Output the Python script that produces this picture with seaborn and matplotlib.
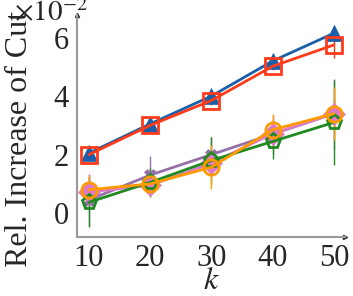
import matplotlib
matplotlib.use('Agg')
import matplotlib.pyplot as plt
import pandas as pd
import seaborn as sns

# values in units of 1e-2
k_values = [10, 20, 30, 40, 50]
blue_tri = [2.05, 3.05, 4.0, 5.2, 6.15]
blue_err = [0.1, 0.15, 0.12, 0.1, 0.25]
red_sq = [2.0, 3.0, 3.85, 5.02, 5.75]
red_err = [0.1, 0.12, 0.15, 0.12, 0.45]
purple_x = [0.45, 1.3, 2.0, 2.7, 3.4]
purple_err = [0.9, 0.65, 0.6, 0.65, 1.2]
pink_d = [0.72, 0.95, 1.7, 2.72, 3.4]
pink_err = [0.6, 0.3, 0.4, 0.5, 0.5]
green_p = [0.37, 1.05, 1.8, 2.45, 3.1]
green_err = [0.85, 0.5, 0.8, 0.6, 1.45]
orange_o = [0.8, 1.0, 1.57, 2.85, 3.4]
orange_err = [0.5, 0.35, 0.75, 0.55, 0.9]

series = [
    ('blue', blue_tri, blue_err, '#1a5fa8', '^', True),
    ('red', red_sq, red_err, '#ff3b1a', 's', False),
    ('purple', purple_x, purple_err, '#9670a8', 'X', True),
    ('pink', pink_d, pink_err, '#e07ac8', 'D', True),
    ('green', green_p, green_err, '#1f8a1f', 'p', False),
    ('orange', orange_o, orange_err, '#ff9a00', 'o', False),
]

sns.set_style('white')
plt.rcParams['font.family'] = ['Liberation Serif', 'DejaVu Serif']
plt.rcParams['mathtext.fontset'] = 'stix'

fig = plt.figure(figsize=(3.53, 2.96), dpi=100)
ax = fig.add_axes([0.218, 0.199, 0.759, 0.75])

for name, vals, err, color, marker, filled in series:
    df = pd.DataFrame({'k': k_values, 'v': vals})
    ax.vlines(k_values, [v - e for v, e in zip(vals, err)],
              [v + e for v, e in zip(vals, err)], color=color, lw=1, zorder=2)
    sns.lineplot(data=df, x='k', y='v', ax=ax, color=color, lw=2,
                 marker=marker, markersize=11 if marker != 'X' else 9,
                 markerfacecolor=color if filled else 'none',
                 markeredgecolor=color, markeredgewidth=2 if not filled else 0.5,
                 zorder=3)

ax.set_xlim(8.05, 51.8)
ax.set_ylim(-0.82, 6.77)
ax.set_xticks(k_values)
ax.set_yticks([0, 2, 4, 6])
ax.tick_params(labelsize=22, direction='in', length=3, color='#999999')
ax.tick_params(axis='y', pad=6)
ax.tick_params(axis='x', pad=5)
ax.set_xlabel('$k$', fontsize=23, labelpad=-4)
ax.set_ylabel('Rel. Increase of Cut', fontsize=23)
ax.yaxis.set_label_coords(-0.16, 0.44)
for s in ['top', 'right']:
    ax.spines[s].set_visible(False)
for s in ['left', 'bottom']:
    ax.spines[s].set_color('#999999')
    ax.spines[s].set_linewidth(1.5)
ax.plot(1, 0, '>', color='#333333', ms=3, transform=ax.transAxes, clip_on=False)
ax.plot(0, 1, '^', color='#333333', ms=3, transform=ax.transAxes, clip_on=False)
ax.text(-0.235, 1.01, r'$\times10^{-2}$', transform=ax.transAxes, fontsize=21,
        ha='left', va='center')

fig.savefig('out.png', dpi=100)
